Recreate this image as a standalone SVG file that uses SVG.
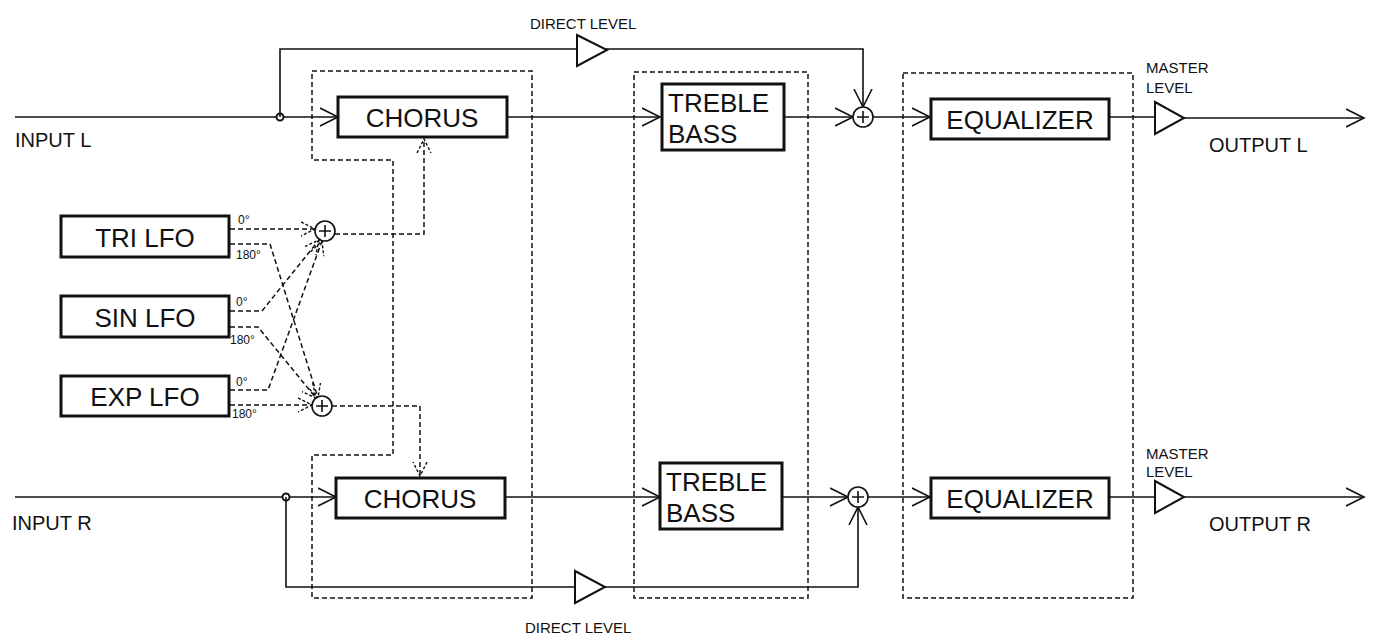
<svg xmlns="http://www.w3.org/2000/svg" width="1374" height="640" viewBox="0 0 1374 640">
<style>
text{font-family:"Liberation Sans",Arial,sans-serif;fill:#111}
.b{fill:#fff;stroke:#111;stroke-width:3}
.t{font-size:26px}
.s{font-size:20px}
.m{font-size:15px}
.d{font-size:12px}
.w{fill:none;stroke:#111;stroke-width:1.6}
.dash{fill:none;stroke:#111;stroke-width:1.5;stroke-dasharray:5,3}
.sum{fill:#fff;stroke:#111;stroke-width:1.6}
.tri{fill:#fff;stroke:#111;stroke-width:2}
</style>
<defs>
<marker id="a" markerUnits="userSpaceOnUse" markerWidth="20" markerHeight="20" refX="18" refY="9" orient="auto" viewBox="0 0 20 18"><path d="M0,0 L18,9 L0,18" fill="none" stroke="#111" stroke-width="1.6"/></marker>
<marker id="ad" markerUnits="userSpaceOnUse" markerWidth="16" markerHeight="16" refX="14" refY="7" orient="auto" viewBox="0 0 16 14"><path d="M0,0 L14,7 L0,14" fill="none" stroke="#111" stroke-width="1.4" stroke-dasharray="3,2"/></marker>
</defs>
<g id="frames">
<path class="dash" d="M312,71 H532 V598 H312 V455 H393 V160 H312 Z"/>
<rect class="dash" x="634" y="72" width="174" height="526"/>
<rect class="dash" x="903" y="73" width="230" height="525"/>
</g>
<g id="connectors">
<path class="w" d="M15,117 H338" marker-end="url(#a)"/>
<circle cx="280" cy="117" r="3.5" fill="#fff" stroke="#111" stroke-width="2"/>
<path class="w" d="M280,117 V49 H863 V107" marker-end="url(#a)"/>
<path class="w" d="M507,117 H660" marker-end="url(#a)"/>
<path class="w" d="M784,117 H853" marker-end="url(#a)"/>
<path class="w" d="M873,117 H930" marker-end="url(#a)"/>
<path class="w" d="M1108,117 H1155"/>
<path class="w" d="M1183,118 H1364" marker-end="url(#a)"/>
<path class="w" d="M15,497 H336" marker-end="url(#a)"/>
<circle cx="286" cy="497" r="3.5" fill="#fff" stroke="#111" stroke-width="2"/>
<path class="w" d="M286,497 V587 H858 V507" marker-end="url(#a)"/>
<path class="w" d="M505,497 H660" marker-end="url(#a)"/>
<path class="w" d="M782,497 H848" marker-end="url(#a)"/>
<path class="w" d="M868,497 H930" marker-end="url(#a)"/>
<path class="w" d="M1108,497 H1155"/>
<path class="w" d="M1183,497 H1364" marker-end="url(#a)"/>
<path class="dash" d="M230,229 H315" marker-end="url(#ad)"/>
<path class="dash" d="M230,244 H270 L318,398" marker-end="url(#ad)"/>
<path class="dash" d="M230,311 H262 L319,240" marker-end="url(#ad)"/>
<path class="dash" d="M230,327 H258 L316,398" marker-end="url(#ad)"/>
<path class="dash" d="M230,390 H268 L322,241" marker-end="url(#ad)"/>
<path class="dash" d="M230,405 H312" marker-end="url(#ad)"/>
<path class="dash" d="M335,234 H424 V139" marker-end="url(#ad)"/>
<path class="dash" d="M332,406 H420 V476" marker-end="url(#ad)"/>
</g>
<g id="direct-l"><path class="tri" d="M577,35 L607,50 L577,66 Z"/><text class="m" x="530" y="29">DIRECT LEVEL</text></g>
<g id="direct-r"><path class="tri" d="M575,571 L605,587 L575,603 Z"/><text class="m" x="525" y="633">DIRECT LEVEL</text></g>
<g id="sum-l"><circle class="sum" cx="863" cy="117" r="10"/><path class="w" d="M857,117 H869 M863,111 V123"/></g>
<g id="sum-r"><circle class="sum" cx="858" cy="497" r="10"/><path class="w" d="M852,497 H864 M858,491 V503"/></g>
<g id="sum-1"><circle class="sum" cx="325" cy="231" r="10"/><path class="w" d="M319,231 H331 M325,225 V237"/></g>
<g id="sum-2"><circle class="sum" cx="322" cy="406" r="10"/><path class="w" d="M316,406 H328 M322,400 V412"/></g>
<g id="chorus-l"><rect class="b" x="338" y="97" width="169" height="40"/><text class="t" x="422" y="127" text-anchor="middle">CHORUS</text></g>
<g id="chorus-r"><rect class="b" x="336" y="478" width="169" height="40"/><text class="t" x="420" y="508" text-anchor="middle">CHORUS</text></g>
<g id="tb-l"><rect class="b" x="662" y="84" width="122" height="66"/><text class="t" x="668" y="112">TREBLE</text><text class="t" x="668" y="143">BASS</text></g>
<g id="tb-r"><rect class="b" x="660" y="463" width="122" height="66"/><text class="t" x="666" y="491">TREBLE</text><text class="t" x="666" y="522">BASS</text></g>
<g id="eq-l"><rect class="b" x="931" y="99" width="178" height="40"/><text class="t" x="1020" y="129" text-anchor="middle">EQUALIZER</text></g>
<g id="eq-r"><rect class="b" x="931" y="478" width="178" height="40"/><text class="t" x="1020" y="508" text-anchor="middle">EQUALIZER</text></g>
<g id="master-l"><path class="tri" d="M1155,102 L1184,118 L1155,134 Z"/><text class="m" x="1146" y="73">MASTER</text><text class="m" x="1146" y="93">LEVEL</text></g>
<g id="master-r"><path class="tri" d="M1155,481 L1184,497 L1155,513 Z"/><text class="m" x="1146" y="459">MASTER</text><text class="m" x="1146" y="477">LEVEL</text></g>
<g id="tri-lfo"><rect class="b" x="61" y="216" width="168" height="41"/><text class="t" x="145" y="247" text-anchor="middle">TRI LFO</text></g>
<g id="sin-lfo"><rect class="b" x="61" y="296" width="168" height="41"/><text class="t" x="145" y="327" text-anchor="middle">SIN LFO</text></g>
<g id="exp-lfo"><rect class="b" x="61" y="376" width="168" height="40"/><text class="t" x="145" y="406" text-anchor="middle">EXP LFO</text></g>
<g id="labels">
<text class="s" x="15" y="147">INPUT  L</text>
<text class="s" x="12" y="530">INPUT  R</text>
<text class="s" x="1209" y="152">OUTPUT  L</text>
<text class="s" x="1209" y="531">OUTPUT  R</text>
<text class="d" x="238" y="224">0°</text>
<text class="d" x="236" y="259">180°</text>
<text class="d" x="236" y="306">0°</text>
<text class="d" x="230" y="344">180°</text>
<text class="d" x="236" y="386">0°</text>
<text class="d" x="232" y="418">180°</text>
</g>
</svg>
